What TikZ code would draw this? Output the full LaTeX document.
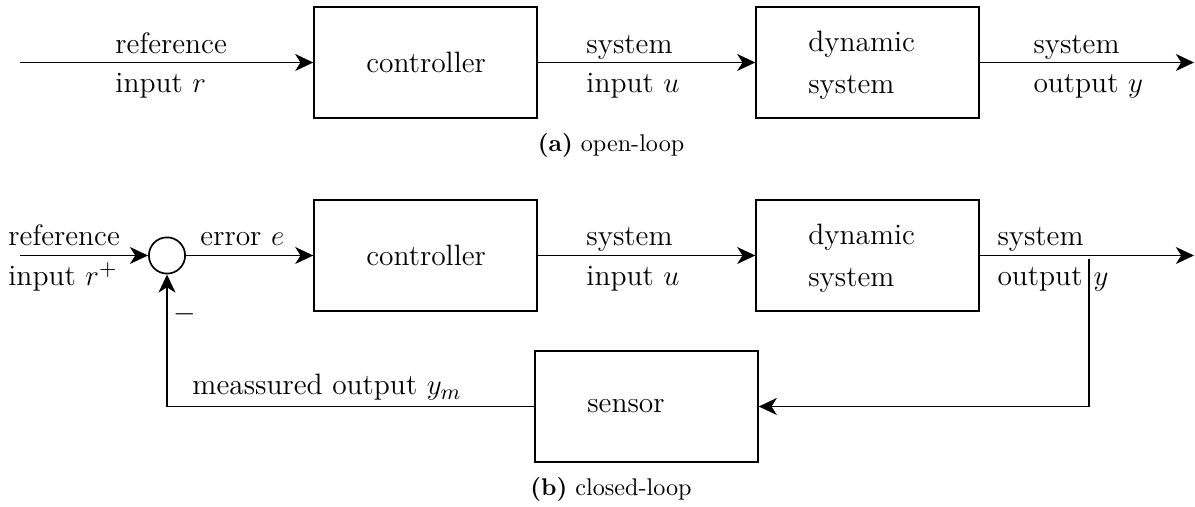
\documentclass[tikz,border=0pt]{standalone}
\usetikzlibrary{arrows.meta}
\begin{document}
\begin{tikzpicture}[x=0.414pt,y=-0.414pt,
  font=\fontsize{12.2}{14.5}\selectfont,
  block/.style={draw, line width=0.9pt, minimum width=92pt, minimum height=46pt,
    text width=49pt, align=left, inner sep=0pt},
  arr/.style={line width=0.75pt, -{Stealth[length=7.5pt,width=7pt,inset=2.2pt]}},
  lbl/.style={anchor=base west, inner sep=0pt},
  captext/.style={anchor=base, inner sep=0pt, font=\fontsize{10}{12}\selectfont}]
\useasboundingbox (0,0) rectangle (1195,507);

% ---------- (a) open-loop ----------
\node[block] (c1) at (425.5,62.5) {controller};
\node[block] (d1) at (867.5,62.5) {\rule{0pt}{11pt}dynamic\\[2.9pt]system};
\coordinate (in1) at (20,62.5);
\coordinate (out1) at (1194,62.5);
\draw[arr] (in1) -- (c1);
\draw[arr] (c1) -- (d1);
\draw[arr] (d1) -- (out1);
\node[lbl] (r1a) at (115,54) {reference};
\node[lbl] (r1b) at (115,93) {input $r$};
\node[lbl] (u1a) at (586,54) {system};
\node[lbl] (u1b) at (586,93) {input $u$};
\node[lbl] (y1a) at (1033,54) {system};
\node[lbl] (y1b) at (1033,93) {output $y$};
\node[captext] (capa) at (611,152) {\textbf{(a)} open-loop};

% ---------- (b) closed-loop ----------
\node[circle, draw, line width=0.7pt, minimum size=15pt, inner sep=0pt] (sum) at (167,255.5) {};
\node[block] (c2) at (425.5,255.5) {controller};
\node[block] (d2) at (867.5,255.5) {\rule{0pt}{11pt}dynamic\\[2.9pt]system};
\node[block] (s2) at (646.5,406.5) {sensor};
\coordinate (in2) at (20,255.5);
\coordinate (out2) at (1194,255.5);
\coordinate (fb) at (1089,259);
\draw[arr] (in2) -- (sum);
\draw[arr] (sum) -- (c2);
\draw[arr] (c2) -- (d2);
\draw[arr] (d2) -- (out2);
\draw[arr] (fb) |- (s2);
\draw[arr] (s2) -| (sum);
\node[lbl] (r2a) at (8,246) {reference};
\node[lbl] (r2b) at (8,286) {input $r^{+}$};
\node[lbl] (e2) at (200,246) {error $e$};
\node[lbl] (m2) at (173,322) {$-$};
\node[lbl] (u2a) at (586,246) {system};
\node[lbl] (u2b) at (586,286) {input $u$};
\node[lbl] (y2a) at (997,246) {system};
\node[lbl] (y2b) at (997,286) {output};
\node[lbl] (y2c) at (1093,286) {$y$};
\node[lbl] (ym) at (192,395) {meassured output $y_m$};
\node[captext] (capb) at (611,496) {\textbf{(b)} closed-loop};
\end{tikzpicture}
\end{document}
